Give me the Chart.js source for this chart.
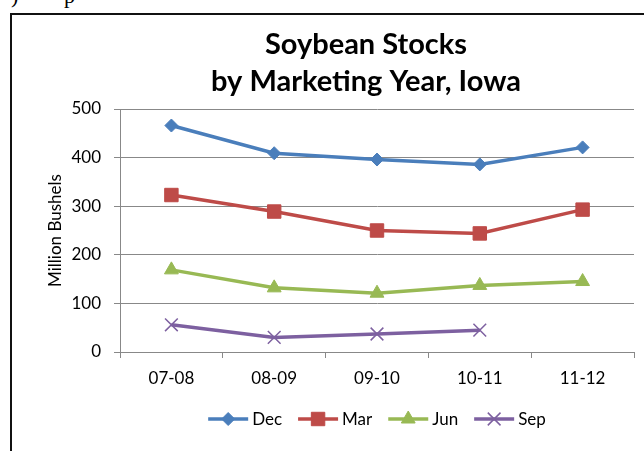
<!DOCTYPE html>
<html><head><meta charset="utf-8">
<script src="https://cdn.jsdelivr.net/npm/chart.js@4/dist/chart.umd.min.js"></script>
<style>
html,body{margin:0;padding:0;background:#fff;overflow:hidden;width:644px;height:451px;position:relative;}
#wrap{position:absolute;left:0;top:0;width:732px;height:451px;}
#box{position:absolute;left:10px;top:13px;width:800px;height:500px;border:2px solid #111;box-sizing:border-box;pointer-events:none;}
.tx{position:absolute;font-family:"Liberation Serif",serif;font-size:22px;color:#000;line-height:22px;}
</style></head><body>
<span class="tx" style="left:11px;top:-15px">)</span>
<span class="tx" style="left:64px;top:-15px">p</span>
<div id="wrap"><canvas id="c" width="732" height="451"></canvas></div>
<div id="box"></div>
<script>
const categories = ['07-08', '08-09', '09-10', '10-11', '11-12'];
const seriesNames = ['Dec', 'Mar', 'Jun', 'Sep'];
const decStocks = [466, 409, 396, 386, 421];
const marStocks = [323, 289, 250, 244, 293];
const junStocks = [169, 132, 121, 137, 145];
const sepStocks = [56, 30, 37, 45, null];
const yTickValues = [0, 100, 200, 300, 400, 500];
const titleLines = ['Soybean Stocks', 'by Marketing Year, Iowa'];
const yAxisTitle = 'Million Bushels';

const FONT = 'Lato';
const GRID = '#888888';

function mk(label, data, color, style, radius, pbw) {
  return {
    label, data, yAxisID: 'y',
    borderColor: color, backgroundColor: color,
    pointBackgroundColor: color, pointBorderColor: color,
    pointStyle: style, pointRadius: radius, pointHoverRadius: radius,
    pointBorderWidth: pbw, borderWidth: 3.5, tension: 0, spanGaps: false
  };
}

const lineLegend = {
  id: 'lineLegend',
  afterDraw(chart) {
    const ctx = chart.ctx;
    const ca = chart.chartArea;
    ctx.save();
    ctx.font = '17px ' + FONT;
    ctx.textBaseline = 'middle';
    const items = chart.data.datasets.map(ds => ({ ds, w: ctx.measureText(ds.label).width }));
    const lineLen = 40, gapText = 4, gapItem = 16;
    const total = items.reduce((s, it) => s + lineLen + gapText + it.w, 0) + gapItem * (items.length - 1);
    let x = (ca.left + ca.right) / 2 - total / 2;
    const y = ca.bottom + 67;
    items.forEach(it => {
      const ds = it.ds;
      ctx.strokeStyle = ds.borderColor;
      ctx.lineWidth = ds.borderWidth;
      ctx.lineCap = 'butt';
      ctx.beginPath(); ctx.moveTo(x, y); ctx.lineTo(x + lineLen, y); ctx.stroke();
      ctx.fillStyle = ds.pointBackgroundColor;
      ctx.strokeStyle = ds.pointBorderColor;
      ctx.lineWidth = ds.pointBorderWidth;
      Chart.helpers.drawPoint(ctx, { pointStyle: ds.pointStyle, radius: ds.pointRadius, borderWidth: ds.pointBorderWidth, rotation: 0 }, x + lineLen / 2, y);
      ctx.fillStyle = '#000';
      ctx.textAlign = 'left';
      ctx.fillText(ds.label, x + lineLen + gapText, y + 1);
      x += lineLen + gapText + it.w + gapItem;
    });
    ctx.restore();
  }
};

const datasets = [
  mk(seriesNames[0], decStocks, '#4A7EBB', 'rectRot', 6.5, 1),
  mk(seriesNames[1], marStocks, '#BE4B48', 'rect', 9.5, 1),
  mk(seriesNames[2], junStocks, '#98B954', 'triangle', 8, 1),
  mk(seriesNames[3], sepStocks, '#7D60A0', 'crossRot', 9, 1.5)
];

new Chart(document.getElementById('c'), {
  type: 'line',
  data: { labels: categories, datasets },
  plugins: [lineLegend],
  options: {
    responsive: false,
    animation: false,
    layout: { padding: { left: 0, right: 0, top: 0, bottom: 0 } },
    plugins: {
      legend: { display: false },
      tooltip: { enabled: false },
      title: {
        display: true, text: titleLines, color: '#000',
        font: { family: FONT, size: 29, weight: 'bold', lineHeight: 37 / 29 },
        padding: { top: 26, bottom: 9 }
      }
    },
    scales: {
      x: {
        type: 'category', offset: true,
        grid: { offset: true, drawOnChartArea: false, drawTicks: true, tickLength: 6, color: GRID, tickColor: GRID },
        border: { display: true, color: GRID, width: 1 },
        ticks: { color: '#000', font: { family: FONT, size: 17 }, padding: 10, maxRotation: 0 },
        afterFit(s) { s.height = 99; }
      },
      y: {
        position: 'left',
        min: 0, max: 500,
        afterBuildTicks(s) { s.ticks = yTickValues.map(v => ({ value: v })); },
        ticks: { color: '#000', font: { family: FONT, size: 17 }, padding: 13 },
        grid: { color: GRID, tickColor: GRID, tickLength: 6 },
        border: { display: true, color: GRID, width: 1 },
        title: { display: true, text: yAxisTitle, color: '#000', font: { family: FONT, size: 17 }, padding: { top: 45, bottom: 0 } },
        afterFit(s) { s.width = 120; }
      },
      spacer: {
        position: 'right', display: true,
        grid: { display: false }, border: { display: false },
        ticks: { display: false },
        afterFit(s) { s.width = 98; }
      }
    }
  }
});
</script>
</body></html>
